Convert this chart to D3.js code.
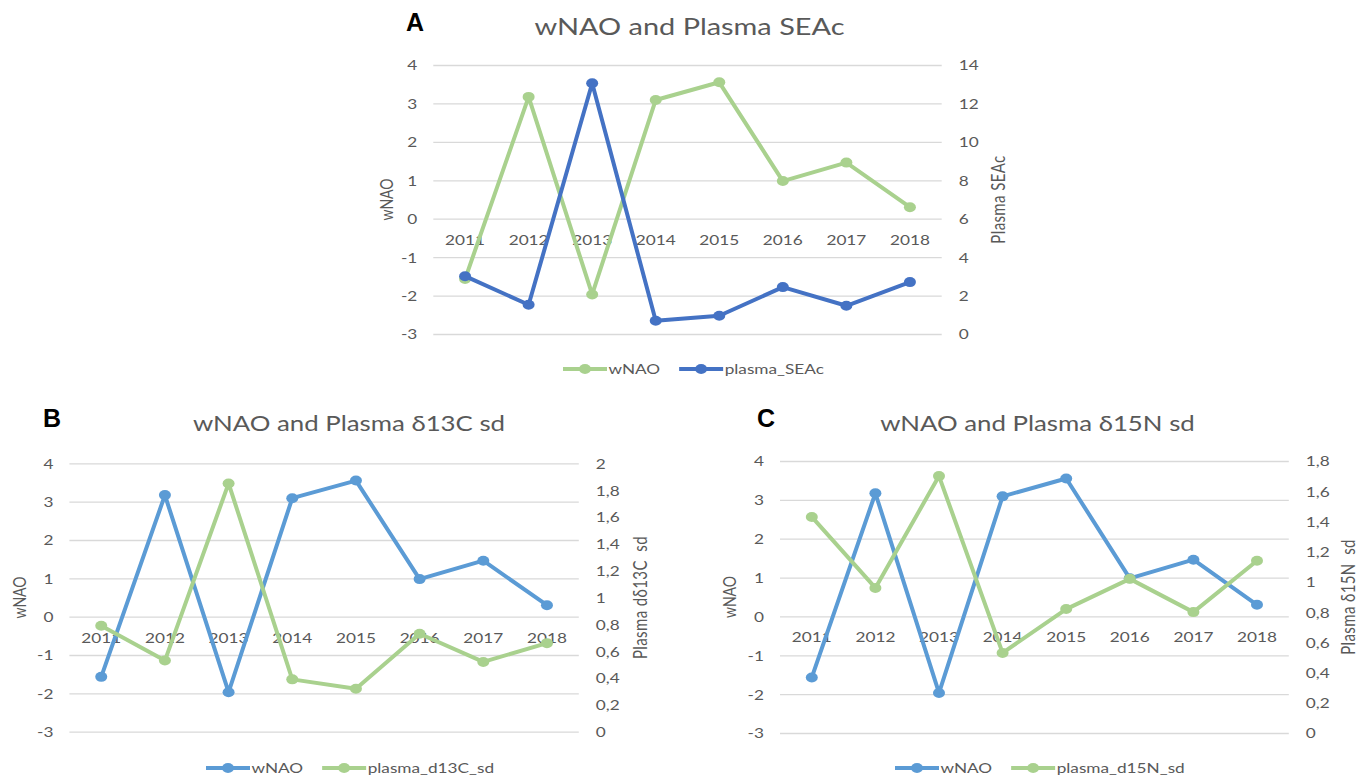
<!DOCTYPE html>
<html>
<head>
<meta charset="utf-8">
<script src="https://cdn.jsdelivr.net/npm/d3@7"></script>
<style>
  body { margin: 0; background: #fff; }
  svg text { font-family: Lato, "Open Sans", sans-serif; fill: #595959; }
</style>
</head>
<body>
<div id="chart"></div>
<script>
// values
const years = ["2011", "2012", "2013", "2014", "2015", "2016", "2017", "2018"];
const wnao = [-1.57, 3.17, -1.97, 3.09, 3.55, 0.98, 1.46, 0.30];
const plasmaSEAc = [3.01, 1.52, 13.05, 0.69, 0.95, 2.44, 1.47, 2.70];
const plasmaD13C = [0.79, 0.53, 1.85, 0.39, 0.32, 0.73, 0.52, 0.66];
const plasmaD15N = [1.43, 0.96, 1.70, 0.53, 0.82, 1.02, 0.80, 1.14];

const wnaoTicks = [-3, -2, -1, 0, 1, 2, 3, 4];
const seacTicks = [0, 2, 4, 6, 8, 10, 12, 14];
const d13cTicks = [0, 0.2, 0.4, 0.6, 0.8, 1, 1.2, 1.4, 1.6, 1.8, 2];
const d15nTicks = [0, 0.2, 0.4, 0.6, 0.8, 1, 1.2, 1.4, 1.6, 1.8];

const green = "#a9d18e", blue = "#4472c4", lightBlue = "#5b9bd5";
const SX = 1.23; // the source figure is stretched sideways

const W = 1361, H = 780;
const svg = d3.select("#chart").append("svg")
    .attr("width", W)
    .attr("height", H);

const comma = d => String(+d.toFixed(1)).replace(".", ",");

const panels = [
  { letter: "A", title: "wNAO and Plasma SEAc", titleSize: 23.5, x: 433.3, y: 65, w: 508.4, h: 269,
    letterX: 406, titleX: 689.5, titleY: 35, legendX: 563, legendY: 369,
    series1: { name: "wNAO", color: green }, series2: { name: "plasma_SEAc", color: blue, values: plasmaSEAc },
    rightTicks: seacTicks, rightFmt: d => String(d), rightTitle: "Plasma SEAc",
    leftTitleX: 387, rightTitleX: 999 },
  { letter: "B", title: "wNAO and Plasma δ13C sd", titleSize: 21, x: 69.4, y: 463.3, w: 509.4, h: 268.4,
    letterX: 43, titleX: 349, titleY: 431, legendX: 206, legendY: 768,
    series1: { name: "wNAO", color: lightBlue }, series2: { name: "plasma_d13C_sd", color: green, values: plasmaD13C },
    rightTicks: d13cTicks, rightFmt: comma, rightTitle: "Plasma dδ13C  sd",
    leftTitleX: 20, rightTitleX: 641 },
  { letter: "C", title: "wNAO and Plasma δ15N sd", titleSize: 21, x: 780, y: 461, w: 508.8, h: 272,
    letterX: 757, titleX: 1037.5, titleY: 431, legendX: 895, legendY: 768,
    series1: { name: "wNAO", color: lightBlue }, series2: { name: "plasma_d15N_sd", color: green, values: plasmaD15N },
    rightTicks: d15nTicks, rightFmt: comma, rightTitle: "Plasma δ15N  sd",
    leftTitleX: 730, rightTitleX: 1349 }
];

function stretch(sel, x, y) {
  return sel.attr("transform", `translate(${x},${y}) scale(${SX},1)`);
}

panels.forEach(p => {
  const g = svg.append("g").attr("transform", `translate(${p.x},${p.y})`);

  const x = d3.scaleBand().domain(years).range([0, p.w]).padding(0);
  const yL = d3.scaleLinear().domain([d3.min(wnaoTicks), d3.max(wnaoTicks)]).range([p.h, 0]);
  const yR = d3.scaleLinear().domain([0, d3.max(p.rightTicks)]).range([p.h, 0]);

  // gridlines + left ticks
  const left = g.append("g").call(d3.axisLeft(yL).tickValues(wnaoTicks).tickSize(-p.w).tickFormat(d => String(d)));
  left.select(".domain").remove();
  left.selectAll("line").attr("stroke", "#d9d9d9").attr("stroke-width", 1.3);
  left.selectAll("text")
      .attr("x", null).attr("dy", "0.35em")
      .attr("text-anchor", "end")
      .style("font-size", "14px")
      .call(s => stretch(s, -16, 0));

  // right ticks
  const right = g.append("g").attr("transform", `translate(${p.w},0)`)
      .call(d3.axisRight(yR).tickValues(p.rightTicks).tickSize(0).tickFormat(p.rightFmt));
  right.select(".domain").remove();
  right.selectAll("text")
      .attr("x", null).attr("dy", "0.35em")
      .attr("text-anchor", "start")
      .style("font-size", "14px")
      .call(s => stretch(s, 17, 0));

  // year labels sit on the zero line
  const bottom = g.append("g").attr("transform", `translate(0,${yL(0)})`)
      .call(d3.axisBottom(x).tickSize(0));
  bottom.select(".domain").remove();
  bottom.selectAll("text")
      .attr("y", null).attr("dy", "0.35em")
      .style("font-size", "14px")
      .call(s => stretch(s, 0, 21));

  // series
  const cx = (d, i) => x(years[i]) + x.bandwidth() / 2;
  const drawSeries = (vals, scale, color) => {
    g.append("path")
        .datum(vals)
        .attr("fill", "none")
        .attr("stroke", color)
        .attr("stroke-width", 4)
        .attr("stroke-linejoin", "round")
        .attr("d", d3.line().x(cx).y(d => scale(d)));
    g.append("g").selectAll("ellipse")
        .data(vals)
      .enter().append("ellipse")
        .attr("cx", cx)
        .attr("cy", d => scale(d))
        .attr("rx", 6).attr("ry", 5)
        .attr("fill", color);
  };
  drawSeries(wnao, yL, p.series1.color);
  drawSeries(p.series2.values, yR, p.series2.color);

  // titles
  stretch(svg.append("text"), p.titleX, p.titleY)
      .attr("text-anchor", "middle")
      .style("font-size", p.titleSize + "px")
      .text(p.title);
  svg.append("text")
      .attr("x", p.letterX).attr("y", p.titleY - 4)
      .style("font-family", "'Liberation Sans', Arial, sans-serif")
      .style("font-weight", "bold")
      .style("font-size", "25px")
      .style("fill", "#000")
      .text(p.letter);

  const midY = p.y + p.h / 2;
  svg.append("text")
      .attr("transform", `translate(${p.leftTitleX},${midY}) rotate(-90) scale(1,${SX})`)
      .attr("text-anchor", "middle")
      .attr("dy", "0.35em")
      .style("font-size", "14px")
      .text("wNAO");
  svg.append("text")
      .attr("transform", `translate(${p.rightTitleX},${midY}) rotate(-90) scale(1,${SX})`)
      .attr("text-anchor", "middle")
      .attr("dy", "0.35em")
      .style("font-size", "15px")
      .style("letter-spacing", "0.4px")
      .style("white-space", "pre")
      .text(p.rightTitle);

  // legend
  const leg = svg.append("g").attr("transform", `translate(${p.legendX},${p.legendY})`);
  let lx = 0;
  [p.series1, p.series2].forEach(s => {
    leg.append("line")
        .attr("x1", lx).attr("x2", lx + 44)
        .attr("stroke", s.color).attr("stroke-width", 4);
    leg.append("ellipse")
        .attr("cx", lx + 22).attr("rx", 6).attr("ry", 5)
        .attr("fill", s.color);
    const t = stretch(leg.append("text"), lx + 45.5, 0)
        .attr("dy", "0.35em")
        .style("font-size", "14px")
        .text(s.name);
    lx += 45.5 + t.node().getComputedTextLength() * SX + 19;
  });
});
</script>
</body>
</html>
